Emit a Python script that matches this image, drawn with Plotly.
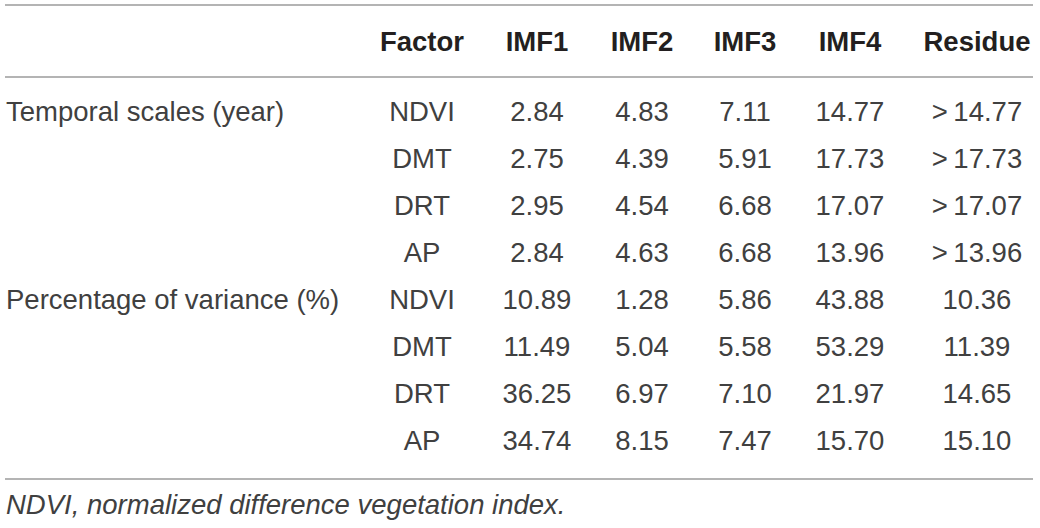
import plotly.graph_objects as go

# ---- data ----
header = ["Factor", "IMF1", "IMF2", "IMF3", "IMF4", "Residue"]
groups = ["Temporal scales (year)", "", "", "", "Percentage of variance (%)", "", "", ""]
factor = ["NDVI", "DMT", "DRT", "AP", "NDVI", "DMT", "DRT", "AP"]
imf1 = [2.84, 2.75, 2.95, 2.84, 10.89, 11.49, 36.25, 34.74]
imf2 = [4.83, 4.39, 4.54, 4.63, 1.28, 5.04, 6.97, 8.15]
imf3 = [7.11, 5.91, 6.68, 6.68, 5.86, 5.58, 7.10, 7.47]
imf4 = [14.77, 17.73, 17.07, 13.96, 43.88, 53.29, 21.97, 15.70]
residue_prefix = [">", ">", ">", ">", "", "", "", ""]
residue = [14.77, 17.73, 17.07, 13.96, 10.36, 11.39, 14.65, 15.10]
footnote = "NDVI, normalized difference vegetation index."

# ---- layout constants ----
W, H = 1040, 528
FONT = "Liberation Sans"
SIZE = 27.5
BODY = "#404040"
HEAD = "#231f20"
LINE = "#9b9b9b"
left_x = 5
text_left_x = 6
right_x = 1033
col_x = [422, 537, 642, 745, 850, 977]
header_row = -1.49
line_rows = [-2.32, -0.788, 7.765]
foot_row = 8.36
y_range = [8.808, -2.426]

rows = list(range(len(factor)))

def fmt(v):
    return f"{v:.2f}"

cols_text = [
    factor,
    [fmt(v) for v in imf1],
    [fmt(v) for v in imf2],
    [fmt(v) for v in imf3],
    [fmt(v) for v in imf4],
    [(p + "\u2009" if p else "") + fmt(v) for p, v in zip(residue_prefix, residue)],
]

fig = go.Figure()

# group labels (left aligned)
fig.add_trace(go.Scatter(
    x=[text_left_x] * len(groups), y=rows, text=groups, mode="text",
    textposition="middle right", cliponaxis=False, hoverinfo="skip",
    textfont=dict(family=FONT, size=SIZE, color=BODY),
))

# body columns
for cx, txt in zip(col_x, cols_text):
    fig.add_trace(go.Scatter(
        x=[cx] * len(txt), y=rows, text=txt, mode="text",
        textposition="middle center", cliponaxis=False, hoverinfo="skip",
        textfont=dict(family=FONT, size=SIZE, color=BODY),
    ))

# header
fig.add_trace(go.Scatter(
    x=col_x, y=[header_row] * len(header), text=header, mode="text",
    textposition="middle center", cliponaxis=False, hoverinfo="skip",
    textfont=dict(family=FONT, size=SIZE, color=HEAD, weight="bold"),
))

# footnote
fig.add_trace(go.Scatter(
    x=[text_left_x], y=[foot_row], text=[footnote], mode="text",
    textposition="middle right", cliponaxis=False, hoverinfo="skip",
    textfont=dict(family=FONT, size=SIZE, color=BODY, style="italic"),
))

for ly in line_rows:
    fig.add_shape(type="line", xref="x", yref="y", x0=left_x, x1=right_x,
                  y0=ly, y1=ly, line=dict(color=LINE, width=1.5))

fig.update_layout(
    width=W, height=H,
    margin=dict(l=0, r=0, t=0, b=0),
    paper_bgcolor="white", plot_bgcolor="white",
    showlegend=False,
    xaxis=dict(range=[0, W], visible=False, fixedrange=True),
    yaxis=dict(range=y_range, visible=False, fixedrange=True),
)

fig.write_html(
    "out.html",
    config={"displayModeBar": False, "staticPlot": True},
    post_script="document.body.style.margin='0px';document.body.style.overflow='hidden';",
)
